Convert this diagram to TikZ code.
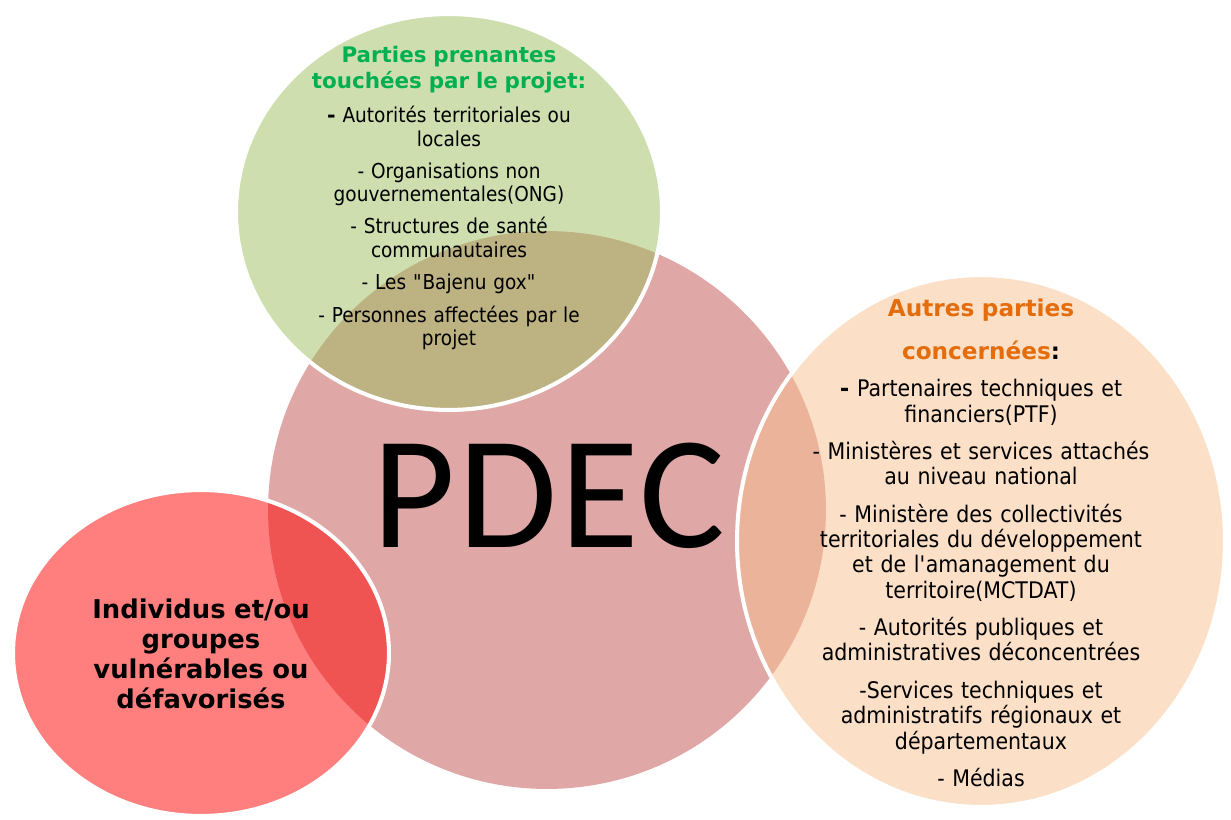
\documentclass[tikz,border=0pt]{standalone}
\usepackage{fontspec}
\setmainfont{DejaVu Sans}[FakeStretch=0.9, BoldFeatures={FakeStretch=1.0}]
\newfontfamily\pdecfont{Carlito}[LetterSpace=1.6]
\usetikzlibrary{shapes.geometric}

\definecolor{pdecrose}{RGB}{223,167,166}
\definecolor{vertbulle}{RGB}{157,189,95}
\definecolor{orangebulle}{RGB}{247,191,143}
\definecolor{rougebulle}{RGB}{255,0,0}
\definecolor{verttitre}{RGB}{0,176,80}
\definecolor{orangetitre}{RGB}{228,108,10}

\newcommand{\titrevert}{\color{verttitre}\bfseries\fontsize{12.2}{15}\selectfont}
\newcommand{\titreorange}{\color{orangetitre}\bfseries\fontsize{13.2}{15}\selectfont}

\begin{document}
\begin{tikzpicture}[x=0.02cm, y=-0.02cm,
    bulle/.style={ellipse, draw=white, line width=2.3pt, fill opacity=.5, inner sep=0pt},
    liste/.style={align=center, text width=12cm, inner sep=0pt, anchor=north}]
\useasboundingbox (0,0) rectangle (1231,819);

% les quatre bulles
\node[ellipse, fill=pdecrose, inner sep=0pt, minimum width=11.16cm, minimum height=11.16cm] (pdec) at (547,510) {};
\node[bulle, fill=vertbulle, minimum width=8.52cm, minimum height=7.92cm] (touchees) at (449,212) {};
\node[bulle, fill=orangebulle, minimum width=9.76cm, minimum height=10.64cm] (autres) at (981,541) {};
\node[bulle, fill=rougebulle, minimum width=7.52cm, minimum height=6.52cm] (vulnerables) at (201,653) {};

% textes
\node[inner sep=0pt, anchor=base, font=\pdecfont\fontsize{91.6}{100}\selectfont] (pdec-texte) at (549,547) {PDEC};

\node[liste, font=\fontsize{11.7}{13.4}\selectfont] (touchees-texte) at (449,46) {%
  {\titrevert Parties prenantes}\\[1.4pt]
  {\titrevert touchées par le projet:}\\[5.9pt]
  \textbf{-} Autorités territoriales ou\\
  locales\\[4.8pt]
  - Organisations non\\
  gouvernementales(ONG)\\[4.8pt]
  - Structures de santé\\
  communautaires\\[4.8pt]
  - Les \textquotedbl Bajenu gox\textquotedbl\\[5.4pt]
  - Personnes affectées par le\\
  projet};

\node[liste, font=\fontsize{13}{14.5}\selectfont] (autres-texte) at (981,299) {%
  {\titreorange Autres parties}\\[9.5pt]
  {\titreorange concernées}\textbf{:}\\[7pt]
  \textbf{-} Partenaires techniques et\\
  financiers(PTF)\\[6.6pt]
  - Ministères et services attachés\\
  au niveau national\\[6.6pt]
  - Ministère des collectivités\\
  territoriales du développement\\
  et de l\textquotesingle amanagement du\\
  territoire(MCTDAT)\\[6.6pt]
  - Autorités publiques et\\
  administratives déconcentrées\\[6.6pt]
  -Services techniques et\\
  administratifs régionaux et\\
  départementaux\\[6.6pt]
  - Médias};

\node[liste, font=\bfseries\fontsize{14.7}{17}\selectfont] (vulnerables-texte) at (201,599) {%
  Individus et/ou\\
  groupes\\
  vulnérables ou\\
  défavorisés};
\end{tikzpicture}
\end{document}
